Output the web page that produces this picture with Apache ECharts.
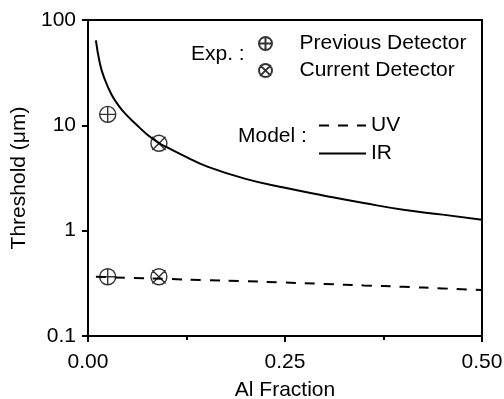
<!DOCTYPE html>
<html>
<head>
<meta charset="utf-8">
<script src="https://cdn.jsdelivr.net/npm/echarts@6/dist/echarts.min.js"></script>
<style>
  html, body { margin: 0; padding: 0; background: #fff; }
  #chart { width: 504px; height: 399px; }
</style>
</head>
<body>
<div id="chart"></div>
<script>
// model curves
var irX = [0.01, 0.015, 0.02, 0.03, 0.04, 0.05, 0.06, 0.075, 0.09, 0.1, 0.125, 0.15, 0.2, 0.25, 0.3, 0.35, 0.4, 0.45, 0.5];
var irY = [64, 39, 29, 19.5, 15, 12.3, 10.4, 8.2, 6.8, 6.2, 5.0, 4.1, 3.1, 2.55, 2.15, 1.83, 1.58, 1.42, 1.27];
var uvX = [0.01, 0.05, 0.1, 0.15, 0.2, 0.25, 0.3, 0.35, 0.4, 0.45, 0.5];
var uvY = [0.365, 0.357, 0.348, 0.339, 0.331, 0.322, 0.312, 0.302, 0.293, 0.283, 0.273];
// experiments
var prevX = [0.025, 0.025];
var prevY = [12.7, 0.365];
var curX = [0.09, 0.09];
var curY = [6.75, 0.365];
var xTicks = [0, 0.25, 0.5];
var yTicks = [0.1, 1, 10, 100];

var FONT = "'Liberation Sans', Arial, sans-serif";
var FS = 21;
var plusSym = 'path://M0,-10A10,10,0,1,1,0,10A10,10,0,1,1,0,-10ZM-10,0L10,0M0,-10L0,10';
var crossSym = 'path://M0,-10A10,10,0,1,1,0,10A10,10,0,1,1,0,-10ZM-8.3,-8.3L8.3,8.3M-8.3,8.3L8.3,-8.3';

function zip(xs, ys) {
    return xs.map(function (x, i) { return [x, ys[i]]; });
}

var chart = echarts.init(document.getElementById('chart'));
var option = {
    animation: false,
    backgroundColor: '#fff',
    textStyle: {fontFamily: FONT},
    grid: {
        left: 88, right: 22, top: 20, bottom: 63,
        outerBoundsMode: 'none',
        containLabel: false,
        show: true, borderColor: '#000', borderWidth: 2
    },
    legend: [
        {
            data: ['Previous Detector', 'Current Detector'],
            orient: 'vertical',
            left: 258, top: 33,
            padding: 0,
            itemWidth: 58, itemHeight: 13, itemGap: 6,
            textStyle: {fontSize: FS, color: '#000', fontFamily: FONT, lineHeight: 20}
        },
        {
            data: ['UV', 'IR'],
            orient: 'vertical',
            left: 318, top: 115,
            padding: 0,
            itemWidth: 47, itemHeight: 13, itemGap: 7,
            itemStyle: {opacity: 0},
            lineStyle: {opacity: 1},
            textStyle: {fontSize: FS, color: '#000', fontFamily: FONT, lineHeight: 20}
        }
    ],
    graphic: [
        {type: 'text', left: 191, top: 44, style: {text: 'Exp. :', fontSize: FS, fontFamily: FONT, fill: '#000'}},
        {type: 'text', left: 238, top: 126, style: {text: 'Model :', fontSize: FS, fontFamily: FONT, fill: '#000'}}
    ],
    xAxis: {
        type: 'value',
        min: 0, max: 0.5, interval: 0.25,
        name: 'Al Fraction',
        nameLocation: 'middle',
        nameGap: 44,
        nameTextStyle: {fontSize: FS, color: '#000', fontFamily: FONT},
        axisLine: {lineStyle: {color: '#000', width: 2}},
        axisTick: {length: 6, lineStyle: {color: '#000', width: 2}},
        minorTick: {show: true, splitNumber: 2, length: 4, lineStyle: {color: '#000', width: 2}},
        splitLine: {show: false},
        axisLabel: {
            fontSize: FS, color: '#000', margin: 16,
            formatter: function (v) { return xTicks.indexOf(v) >= 0 ? v.toFixed(2) : ''; }
        }
    },
    yAxis: {
        type: 'log',
        logBase: 10,
        min: 0.1, max: 100,
        name: 'Threshold (\u03bcm)',
        nameLocation: 'middle',
        nameGap: 56,
        nameTextStyle: {fontSize: FS, color: '#000', fontFamily: FONT},
        axisLine: {lineStyle: {color: '#000', width: 2}},
        axisTick: {length: 6, lineStyle: {color: '#000', width: 2}},
        splitLine: {show: false},
        axisLabel: {
            fontSize: FS, color: '#000', margin: 12,
            formatter: function (v) {
                for (var i = 0; i < yTicks.length; i++) {
                    if (Math.abs(v - yTicks[i]) < 1e-9 * yTicks[i]) return String(yTicks[i]);
                }
                return '';
            }
        }
    },
    series: [
        {
            name: 'UV',
            type: 'line',
            data: zip(uvX, uvY),
            showSymbol: false, symbol: 'none',
            smooth: true,
            lineStyle: {color: '#000', width: 2, type: [10, 9]},
            itemStyle: {color: '#000'}
        },
        {
            name: 'IR',
            type: 'line',
            data: zip(irX, irY),
            showSymbol: false, symbol: 'none',
            smooth: true,
            lineStyle: {color: '#000', width: 2},
            itemStyle: {color: '#000'}
        },
        {
            name: 'Previous Detector',
            type: 'scatter',
            data: zip(prevX, prevY),
            symbol: plusSym,
            symbolSize: 16,
            itemStyle: {color: 'transparent', borderColor: '#000', borderWidth: 1.4},
            z: 5
        },
        {
            name: 'Current Detector',
            type: 'scatter',
            data: zip(curX, curY),
            symbol: crossSym,
            symbolSize: 16,
            itemStyle: {color: 'transparent', borderColor: '#000', borderWidth: 1.4},
            z: 5
        }
    ]
};
chart.setOption(option);
</script>
</body>
</html>
